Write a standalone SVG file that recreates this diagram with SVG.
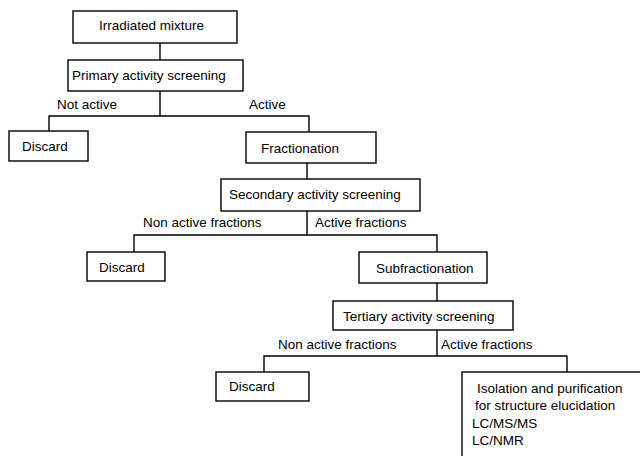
<svg xmlns="http://www.w3.org/2000/svg" width="640" height="456" viewBox="0 0 640 456">
<style>
.box{fill:#fff;stroke:#000;stroke-width:1.4}
.ln{fill:none;stroke:#000;stroke-width:1.4}
text{font-family:"Liberation Sans",Arial,sans-serif;font-size:13.5px;fill:#000}
</style>
<rect width="640" height="456" fill="#fff"/>
<g id="connectors">
<path class="ln" d="M160 43V60"/>
<path class="ln" d="M160 91V116M49 131V116H309V133"/>
<path class="ln" d="M307 163V179"/>
<path class="ln" d="M307 211V235M134 252V235H437V252"/>
<path class="ln" d="M437 283V301"/>
<path class="ln" d="M437 330V356M264 372V356H567V372"/>
<text x="57" y="109">Not active</text>
<text x="249" y="109">Active</text>
<text x="143" y="227">Non active fractions</text>
<text x="315" y="227">Active fractions</text>
<text x="278" y="349">Non active fractions</text>
<text x="441" y="349">Active fractions</text>
</g>
<g id="irradiated"><rect class="box" x="73" y="11" width="164" height="32"/><text x="99" y="30">Irradiated mixture</text></g>
<g id="primary"><rect class="box" x="68" y="60" width="175" height="31"/><text x="72" y="80">Primary activity  screening</text></g>
<g id="discard1"><rect class="box" x="9" y="131" width="79" height="30"/><text x="22" y="151">Discard</text></g>
<g id="fractionation"><rect class="box" x="246" y="132" width="130" height="31"/><text x="261" y="153">Fractionation</text></g>
<g id="secondary"><rect class="box" x="221" y="179" width="199" height="32"/><text x="229" y="199">Secondary activity screening</text></g>
<g id="discard2"><rect class="box" x="87" y="252" width="78" height="29"/><text x="99" y="272">Discard</text></g>
<g id="subfractionation"><rect class="box" x="359" y="252" width="128" height="31"/><text x="376" y="273">Subfractionation</text></g>
<g id="tertiary"><rect class="box" x="333" y="301" width="180" height="29"/><text x="343" y="321">Tertiary activity screening</text></g>
<g id="discard3"><rect class="box" x="216" y="372" width="93" height="29"/><text x="229" y="391">Discard</text></g>
<g id="isolation"><rect class="box" x="462" y="372" width="200" height="100"/>
<text x="477" y="393">Isolation and purification</text>
<text x="475" y="410">for structure elucidation</text>
<text x="472" y="428">LC/MS/MS</text>
<text x="472" y="445">LC/NMR</text></g>
</svg>
